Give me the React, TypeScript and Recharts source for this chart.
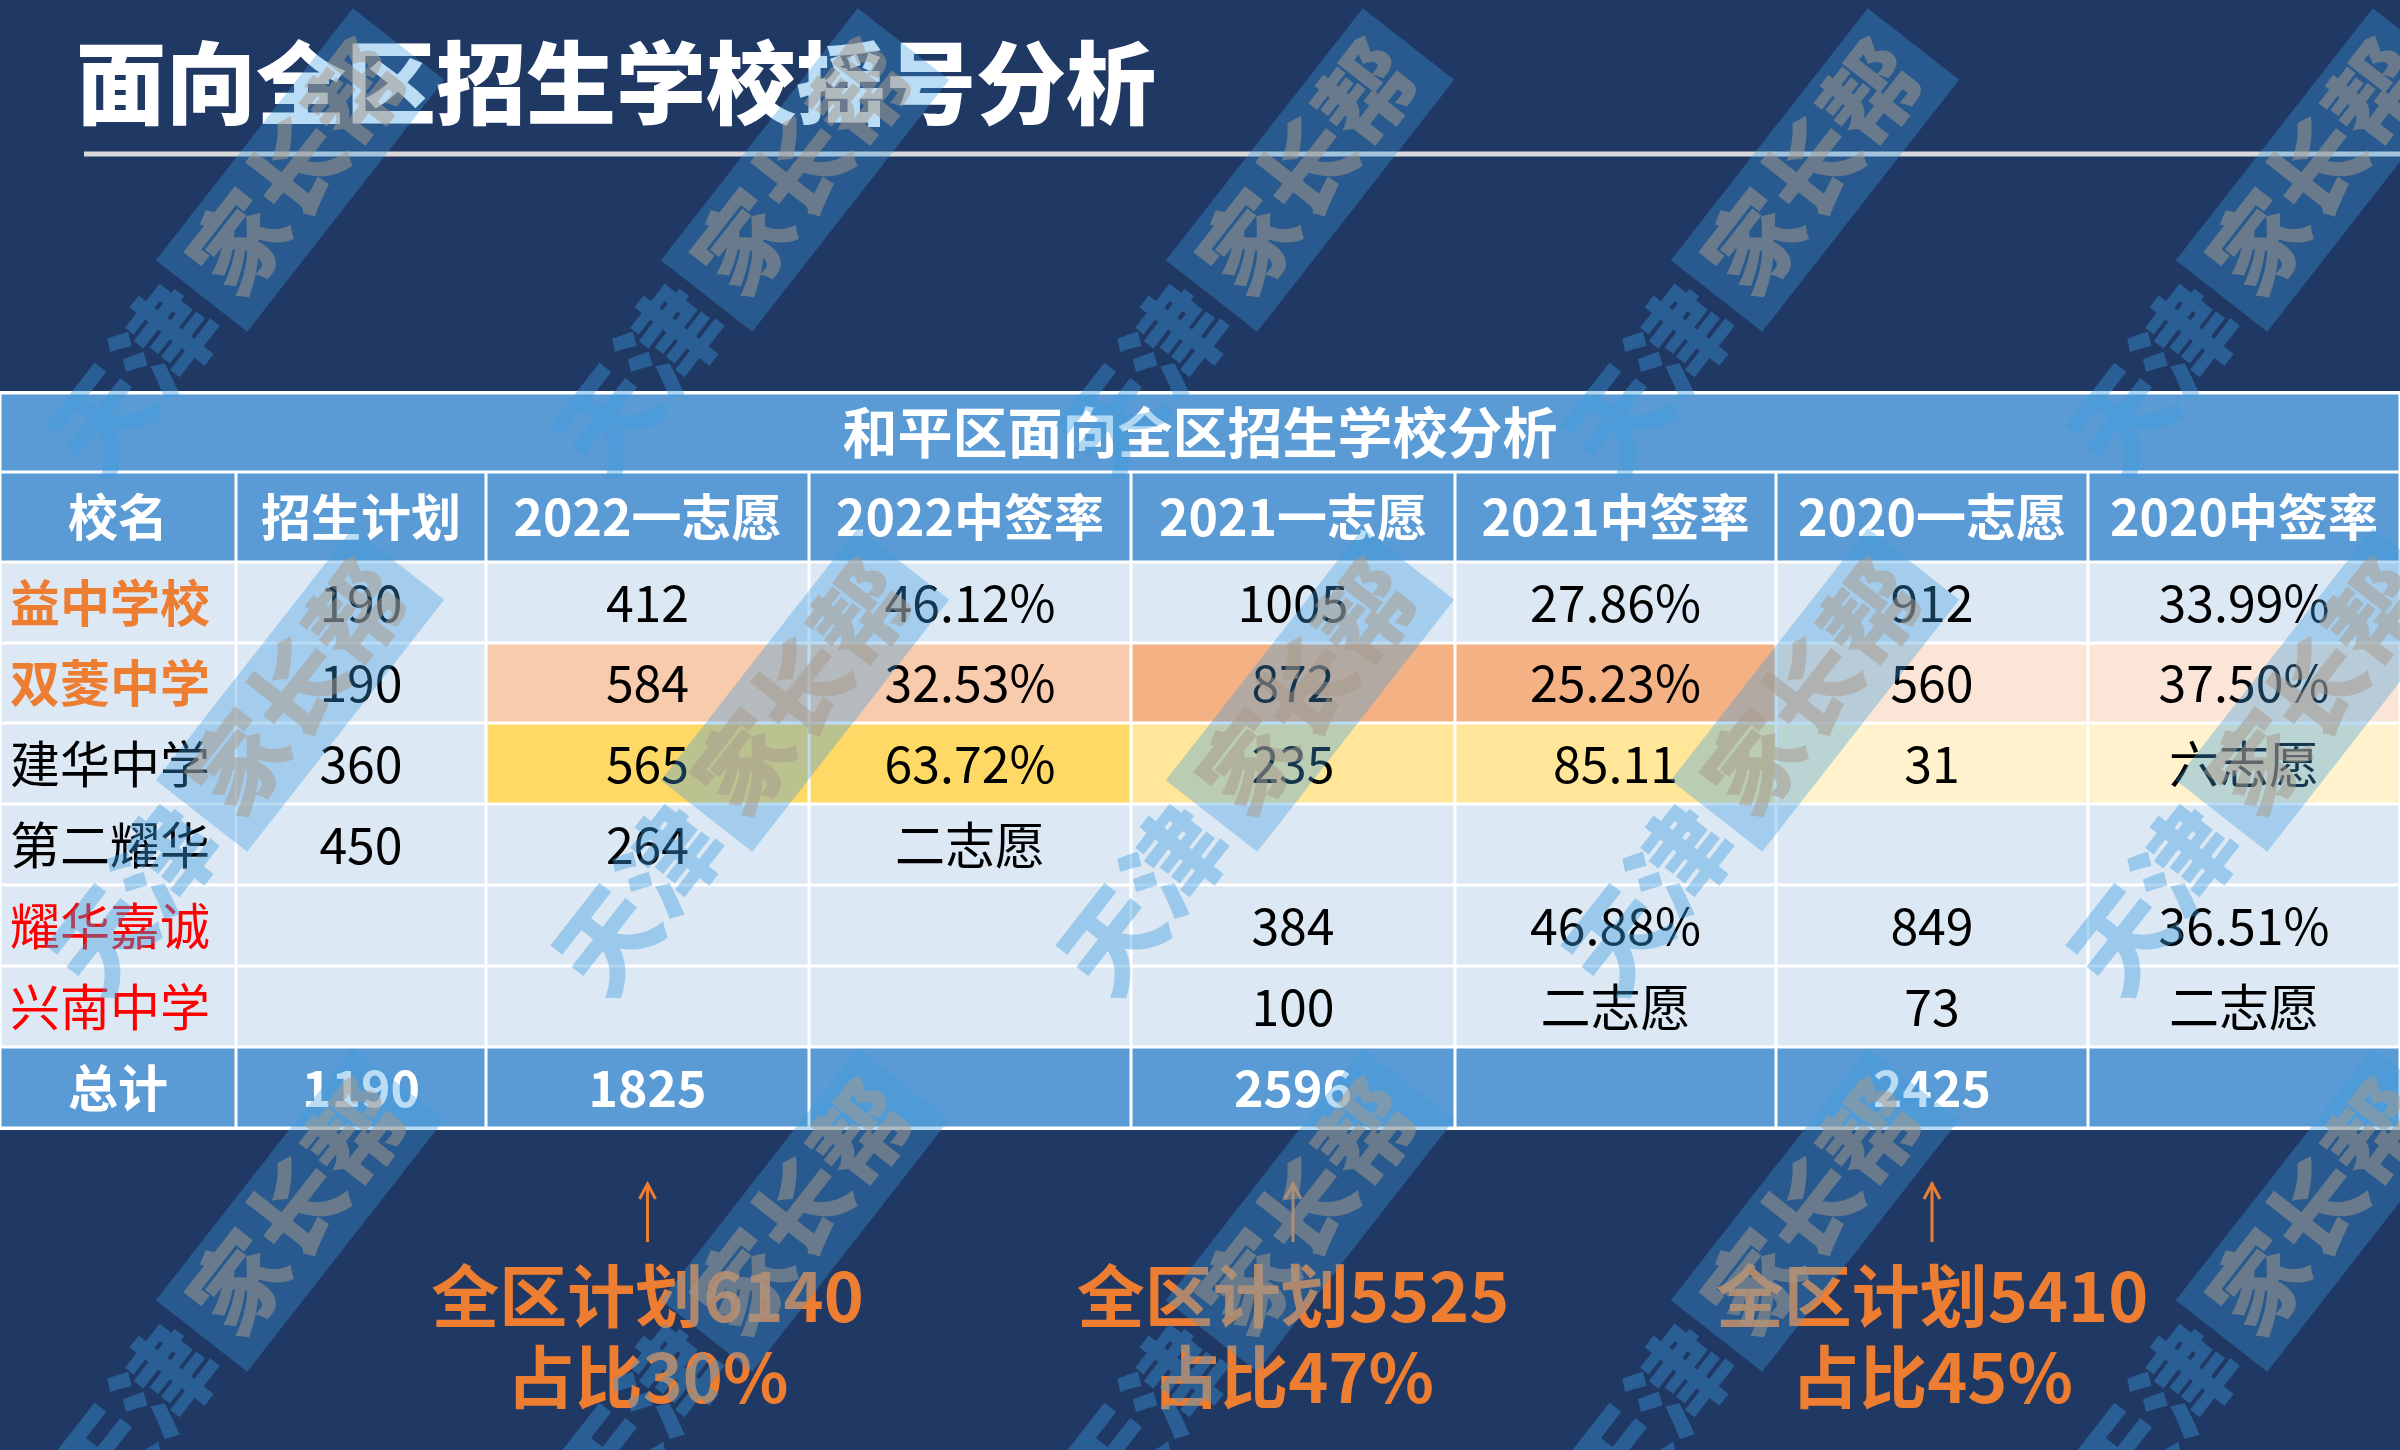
import React from 'react';
import { ScatterChart, Scatter, XAxis, YAxis, ReferenceLine, Customized } from 'recharts';

// table content
const tableTitle = '和平区面向全区招生学校分析';
const headers = ['校名', '招生计划', '2022一志愿', '2022中签率', '2021一志愿', '2021中签率', '2020一志愿', '2020中签率'];
const schools = ['益中学校', '双菱中学', '建华中学', '第二耀华', '耀华嘉诚', '兴南中学'];
const plan = [190, 190, 360, 450, null, null];
const vol2022 = [412, 584, 565, 264, null, null];
const rate2022 = ['46.12%', '32.53%', '63.72%', '二志愿', '', ''];
const vol2021 = [1005, 872, 235, null, 384, 100];
const rate2021 = ['27.86%', '25.23%', '85.11', '', '46.88%', '二志愿'];
const vol2020 = [912, 560, 31, null, 849, 73];
const rate2020 = ['33.99%', '37.50%', '六志愿', '', '36.51%', '二志愿'];
const totals = ['总计', 1190, 1825, '', 2596, '', 2425, ''];
const districtPlans = [6140, 5525, 5410];
const districtShares = ['30%', '47%', '45%'];

// layout
const W = 2400;
const H = 1450;
const COL_EDGES = [0, 236, 486, 809, 1131, 1455, 1776, 2088, 2400];
const ROW_EDGES = [393, 472, 562, 643, 723, 804, 885, 966, 1047, 1128];
const NOTE_Y = 1183;
const WM_X = [300, 805, 1310, 1815, 2320];
const WM_Y = [170, 690, 1210];
const NAVY = '#203864';
const BLUE = '#5b9bd5';
const LIGHT = '#dde8f5';
const ORANGE = '#ed7d31';
const FONT = '"Noto Sans CJK SC", "Noto Sans", sans-serif';

const nameColors = [ORANGE, ORANGE, '#000', '#000', '#ff0000', '#ff0000'];
const nameWeights = [700, 700, 400, 400, 400, 400];
// fills per data row for the year column pairs (2022, 2021, 2020)
const rowFills: Record<number, string[]> = {
  1: ['#f8cbad', '#f4b183', '#fbe5d6'],
  2: ['#ffd966', '#ffe699', '#fff2cc'],
};

const colCenter = (c: number) => (COL_EDGES[c] + COL_EDGES[c + 1]) / 2;
const rowCenter = (r: number) => (ROW_EDGES[r] + ROW_EDGES[r + 1]) / 2;
const fmt = (v: any) => (v === null || v === undefined ? '' : String(v));

const cells: any[] = [];
// band title
cells.push({
  x: W / 2, y: rowCenter(0), w: W, h: ROW_EDGES[1] - ROW_EDGES[0],
  text: tableTitle, fill: BLUE, color: '#fff', weight: 700, size: 55, align: 'middle',
});
headers.forEach((t, c) => {
  cells.push({
    x: colCenter(c), y: rowCenter(1), w: COL_EDGES[c + 1] - COL_EDGES[c], h: ROW_EDGES[2] - ROW_EDGES[1],
    text: t, fill: BLUE, color: '#fff', weight: 700, size: 50, align: 'middle',
  });
});
schools.forEach((s, i) => {
  const r = i + 2;
  const values = [s, fmt(plan[i]), fmt(vol2022[i]), rate2022[i], fmt(vol2021[i]), rate2021[i], fmt(vol2020[i]), rate2020[i]];
  values.forEach((t, c) => {
    const fills = rowFills[i];
    const fill = fills && c >= 2 ? fills[Math.floor((c - 2) / 2)] : LIGHT;
    cells.push({
      x: colCenter(c), y: rowCenter(r), w: COL_EDGES[c + 1] - COL_EDGES[c], h: ROW_EDGES[r + 1] - ROW_EDGES[r],
      text: t, fill,
      color: c === 0 ? nameColors[i] : '#000',
      weight: c === 0 ? nameWeights[i] : 400,
      size: 50,
      align: c === 0 ? 'start' : 'middle',
    });
  });
});
totals.forEach((t, c) => {
  cells.push({
    x: colCenter(c), y: rowCenter(8), w: COL_EDGES[c + 1] - COL_EDGES[c], h: ROW_EDGES[9] - ROW_EDGES[8],
    text: fmt(t), fill: BLUE, color: '#fff', weight: 700, size: 50, align: 'middle',
  });
});

const notes = districtPlans.map((p, i) => ({ x: colCenter(2 + i * 2), y: NOTE_Y, plan: p, share: districtShares[i] }));

const marks: any[] = [];
WM_Y.forEach((y) => WM_X.forEach((x) => marks.push({ x, y })));

const CellShape = (props: any) => {
  const { cx, cy, payload } = props;
  const { w, h, fill, text, color, weight, size, align } = payload;
  const tx = align === 'start' ? cx - w / 2 + 10 : cx;
  return (
    <g>
      <rect x={cx - w / 2 + 1.5} y={cy - h / 2 + 1.5} width={w - 3} height={h - 3} fill={fill} />
      {text !== '' && (
        <text x={tx} y={cy + size * 0.38} textAnchor={align} fill={color} fontWeight={weight} fontSize={size} fontFamily={FONT}>
          {text}
        </text>
      )}
    </g>
  );
};

const NoteShape = (props: any) => {
  const { cx, cy, payload } = props;
  return (
    <g>
      <line x1={cx} y1={cy} x2={cx} y2={cy + 59} stroke={ORANGE} strokeWidth={3} />
      <polyline points={`${cx - 8},${cy + 16} ${cx},${cy + 1} ${cx + 8},${cy + 16}`} fill="none" stroke={ORANGE} strokeWidth={3} />
      <text x={cx} y={cy + 139} textAnchor="middle" fill={ORANGE} fontWeight={700} fontSize={68} fontFamily={FONT}>
        全区计划{payload.plan}
      </text>
      <text x={cx} y={cy + 220} textAnchor="middle" fill={ORANGE} fontWeight={700} fontSize={68} fontFamily={FONT}>
        占比{payload.share}
      </text>
    </g>
  );
};

// watermark "天津家长帮", centred on its boxed part
const MarkShape = (props: any) => {
  const { cx, cy } = props;
  return (
    <g transform={`translate(${cx},${cy}) rotate(-52)`}>
      <text x={-168} y={36} textAnchor="end" fill="#3a9be0" opacity={0.4} fontWeight={900} fontSize={100} fontFamily={FONT}>天津</text>
      <rect x={-160} y={-58} width={320} height={116} fill="#3a9be0" opacity={0.35} />
      <text x={0} y={33} textAnchor="middle" fill="#a89a8a" opacity={0.5} fontWeight={900} fontSize={95} fontFamily={FONT}>家长帮</text>
    </g>
  );
};

const Title = () => (
  <g>
    <rect x={0} y={ROW_EDGES[0] - 2} width={W} height={ROW_EDGES[9] - ROW_EDGES[0] + 4} fill="#fff" />
    <text x={76} y={117} fill="#fff" fontWeight={900} fontSize={90} fontFamily={FONT}>
      面向全区招生学校摇号分析
    </text>
  </g>
);

export default function App() {
  return (
    <div style={{ position: 'absolute', left: 0, top: 0, width: W, height: H, background: NAVY, overflow: 'hidden' }}>
      <ScatterChart width={W} height={H} margin={{ top: 0, right: 0, bottom: 0, left: 0 }}>
        <XAxis type="number" dataKey="x" domain={[0, W]} allowDataOverflow hide />
        <YAxis type="number" dataKey="y" domain={[0, H]} allowDataOverflow reversed hide />
        <Customized component={Title} />
        <ReferenceLine segment={[{ x: 84, y: 154 }, { x: W, y: 154 }]} stroke="#d9d9d9" strokeWidth={5} />
        <Scatter data={cells} shape={CellShape} isAnimationActive={false} />
        <Scatter data={notes} shape={NoteShape} isAnimationActive={false} />
        <Scatter data={marks} shape={MarkShape} isAnimationActive={false} />
      </ScatterChart>
    </div>
  );
}
